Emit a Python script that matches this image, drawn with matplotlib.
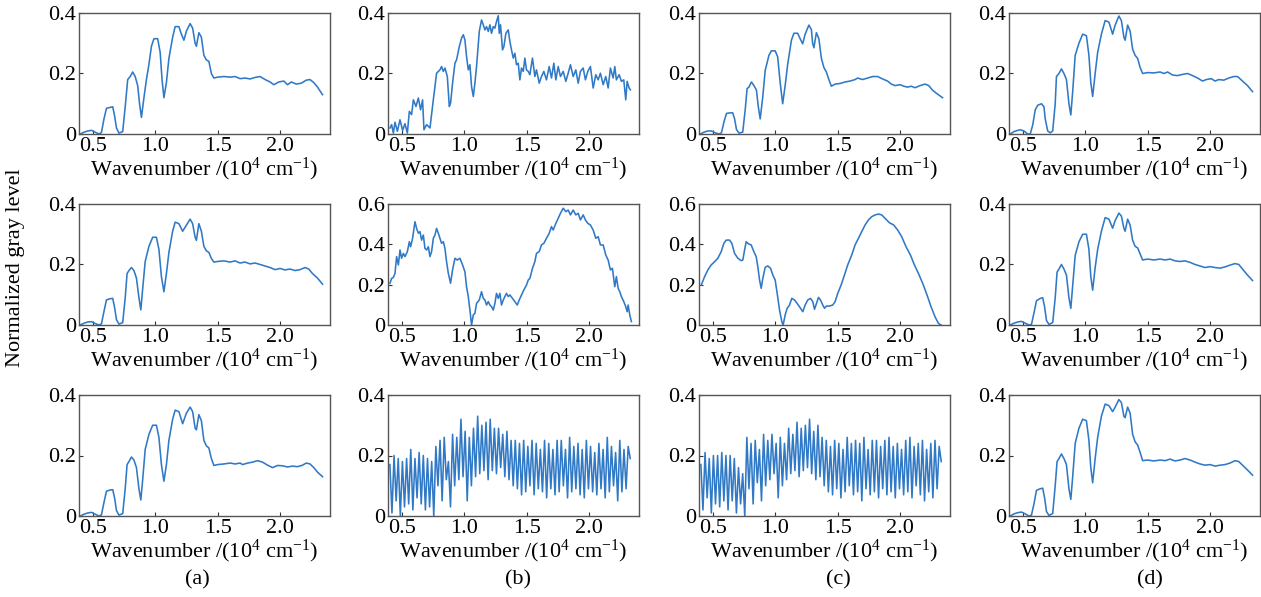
import numpy as np
import matplotlib.pyplot as plt

plt.rcParams['font.family'] = 'Liberation Serif'
plt.rcParams['mathtext.fontset'] = 'custom'
plt.rcParams['mathtext.rm'] = 'Liberation Serif'
plt.rcParams['mathtext.it'] = 'Liberation Serif:italic'

# (wavenumber /1e4 cm^-1, normalized gray level)
a1 = [(0.40,0.0),(0.43,0.006),(0.46,0.010),(0.49,0.012),(0.52,0.006),(0.55,0.0),(0.57,0.005),(0.59,0.05),
      (0.61,0.085),(0.64,0.088),(0.66,0.09),(0.675,0.06),(0.69,0.02),(0.71,0.003),(0.74,0.008),(0.76,0.09),
      (0.78,0.18),(0.80,0.19),(0.82,0.205),(0.84,0.19),(0.86,0.16),(0.875,0.10),(0.89,0.055),(0.91,0.12),
      (0.93,0.18),(0.95,0.23),(0.97,0.29),(0.99,0.315),(1.02,0.315),(1.04,0.27),(1.055,0.18),(1.07,0.12),
      (1.09,0.17),(1.11,0.25),(1.14,0.32),(1.16,0.355),(1.19,0.355),(1.21,0.33),(1.23,0.31),(1.25,0.34),
      (1.28,0.365),(1.30,0.35),(1.32,0.30),(1.33,0.29),(1.35,0.335),(1.37,0.32),(1.39,0.26),(1.41,0.245),
      (1.43,0.24),(1.45,0.20),(1.47,0.185),(1.50,0.188),(1.55,0.19),(1.60,0.188),(1.64,0.19),(1.68,0.183),
      (1.72,0.185),(1.76,0.182),(1.80,0.187),(1.84,0.19),(1.88,0.18),(1.92,0.172),(1.95,0.163),(1.99,0.172),
      (2.03,0.175),(2.06,0.163),(2.09,0.172),(2.13,0.165),(2.17,0.168),(2.21,0.178),(2.24,0.18),(2.27,0.17),
      (2.30,0.155),(2.34,0.13)]

a2 = [(0.40,0.0),(0.43,0.006),(0.46,0.010),(0.49,0.011),(0.52,0.005),(0.55,0.0),(0.57,0.004),(0.59,0.045),
      (0.61,0.083),(0.64,0.087),(0.66,0.088),(0.675,0.058),(0.69,0.018),(0.71,0.003),(0.74,0.008),(0.76,0.09),
      (0.775,0.17),(0.79,0.18),(0.81,0.19),(0.83,0.18),(0.85,0.155),(0.87,0.09),(0.885,0.05),(0.90,0.12),
      (0.92,0.21),(0.95,0.26),(0.98,0.29),(1.01,0.29),(1.03,0.25),(1.05,0.16),(1.07,0.11),(1.09,0.17),
      (1.11,0.24),(1.14,0.31),(1.16,0.34),(1.19,0.335),(1.22,0.31),(1.25,0.33),(1.28,0.35),(1.30,0.335),
      (1.32,0.29),(1.33,0.28),(1.35,0.335),(1.37,0.31),(1.39,0.26),(1.41,0.245),(1.43,0.24),(1.45,0.22),
      (1.47,0.208),(1.50,0.21),(1.55,0.212),(1.60,0.208),(1.64,0.212),(1.68,0.205),(1.72,0.208),(1.76,0.202),
      (1.80,0.205),(1.84,0.2),(1.88,0.195),(1.92,0.19),(1.96,0.183),(2.00,0.187),(2.04,0.182),(2.08,0.185),
      (2.12,0.18),(2.16,0.183),(2.20,0.19),(2.23,0.185),(2.26,0.17),(2.30,0.155),(2.34,0.135)]

a3 = [(0.40,0.0),(0.43,0.006),(0.46,0.010),(0.49,0.012),(0.52,0.006),(0.55,0.0),(0.57,0.004),(0.59,0.045),
      (0.61,0.082),(0.64,0.086),(0.66,0.087),(0.675,0.06),(0.69,0.018),(0.71,0.003),(0.74,0.008),(0.76,0.09),
      (0.775,0.17),(0.79,0.18),(0.81,0.195),(0.83,0.185),(0.85,0.16),(0.87,0.09),(0.885,0.053),(0.90,0.12),
      (0.92,0.22),(0.95,0.27),(0.98,0.30),(1.01,0.30),(1.03,0.26),(1.05,0.17),(1.07,0.115),(1.09,0.17),
      (1.11,0.25),(1.14,0.32),(1.16,0.35),(1.19,0.345),(1.22,0.305),(1.25,0.34),(1.28,0.36),(1.30,0.345),
      (1.32,0.29),(1.33,0.285),(1.35,0.335),(1.37,0.315),(1.39,0.25),(1.41,0.232),(1.43,0.225),(1.45,0.19),
      (1.47,0.167),(1.50,0.17),(1.55,0.172),(1.60,0.175),(1.64,0.172),(1.68,0.175),(1.70,0.17),(1.74,0.175),
      (1.78,0.178),(1.82,0.183),(1.86,0.178),(1.90,0.168),(1.94,0.16),(1.98,0.167),(2.02,0.166),(2.06,0.162),
      (2.10,0.165),(2.14,0.163),(2.18,0.168),(2.21,0.175),(2.24,0.172),(2.27,0.16),(2.30,0.145),(2.34,0.13)]

b1 = [(0.406,0.020),(0.419,0.031),(0.433,0.003),(0.446,0.039),(0.465,0.009),(0.486,0.047),(0.507,0.012),
      (0.526,0.034),(0.545,0.003),(0.561,0.075),(0.579,0.064),(0.593,0.113),(0.614,0.091),(0.633,0.119),
      (0.651,0.080),(0.667,0.113),(0.678,0.014),(0.699,0.031),(0.726,0.020),(0.753,0.113),(0.779,0.201),
      (0.806,0.212),(0.819,0.223),(0.833,0.207),(0.846,0.218),(0.865,0.190),(0.881,0.091),(0.891,0.102),
      (0.907,0.168),(0.926,0.234),(0.939,0.245),(0.961,0.289),(0.979,0.317),(0.993,0.328),(1.006,0.311),
      (1.019,0.256),(1.033,0.212),(1.046,0.229),(1.059,0.157),(1.073,0.124),(1.086,0.168),(1.099,0.223),
      (1.121,0.339),(1.139,0.377),(1.153,0.361),(1.166,0.344),(1.179,0.355),(1.193,0.339),(1.206,0.361),
      (1.219,0.333),(1.233,0.355),(1.246,0.350),(1.259,0.372),(1.273,0.391),(1.281,0.333),(1.291,0.361),
      (1.307,0.278),(1.318,0.289),(1.334,0.333),(1.353,0.344),(1.366,0.306),(1.379,0.278),(1.393,0.251),
      (1.406,0.267),(1.419,0.229),(1.433,0.234),(1.446,0.179),(1.459,0.218),(1.473,0.207),(1.486,0.251),
      (1.499,0.212),(1.513,0.207),(1.526,0.196),(1.547,0.251),(1.566,0.190),(1.579,0.212),(1.601,0.168),
      (1.619,0.190),(1.638,0.207),(1.659,0.179),(1.681,0.223),(1.699,0.185),(1.718,0.234),(1.734,0.179),
      (1.753,0.223),(1.771,0.190),(1.793,0.207),(1.814,0.174),(1.833,0.201),(1.851,0.229),(1.873,0.190),
      (1.894,0.212),(1.913,0.168),(1.931,0.207),(1.953,0.218),(1.971,0.179),(1.990,0.207),(2.011,0.223),
      (2.033,0.152),(2.054,0.196),(2.073,0.179),(2.091,0.201),(2.113,0.163),(2.134,0.190),(2.153,0.152),
      (2.171,0.218),(2.193,0.185),(2.206,0.223),(2.219,0.179),(2.241,0.196),(2.259,0.174),(2.278,0.179),
      (2.294,0.113),(2.305,0.174),(2.321,0.152),(2.331,0.146)]

b2 = [(0.406,0.207),(0.419,0.231),(0.433,0.236),(0.446,0.256),(0.459,0.339),(0.473,0.298),(0.486,0.372),
      (0.499,0.331),(0.513,0.355),(0.526,0.339),(0.545,0.364),(0.561,0.413),(0.571,0.388),(0.587,0.430),
      (0.606,0.512),(0.619,0.479),(0.633,0.455),(0.646,0.463),(0.659,0.421),(0.673,0.446),(0.686,0.380),
      (0.699,0.372),(0.713,0.388),(0.726,0.339),(0.739,0.364),(0.753,0.430),(0.766,0.446),(0.779,0.479),
      (0.793,0.455),(0.806,0.430),(0.819,0.405),(0.833,0.413),(0.846,0.380),(0.859,0.314),(0.873,0.256),
      (0.891,0.207),(0.907,0.273),(0.926,0.331),(0.945,0.322),(0.966,0.331),(0.987,0.298),(1.006,0.264),
      (1.019,0.190),(1.033,0.141),(1.046,0.074),(1.059,0.000),(1.073,0.050),(1.086,0.058),(1.099,0.107),
      (1.121,0.124),(1.139,0.165),(1.153,0.132),(1.166,0.124),(1.179,0.099),(1.193,0.116),(1.206,0.099),
      (1.219,0.091),(1.233,0.074),(1.246,0.107),(1.259,0.157),(1.273,0.132),(1.286,0.157),(1.299,0.099),
      (1.313,0.124),(1.326,0.141),(1.339,0.157),(1.353,0.141),(1.366,0.149),(1.387,0.132),(1.406,0.116),
      (1.425,0.099),(1.441,0.124),(1.459,0.149),(1.478,0.174),(1.499,0.198),(1.513,0.223),(1.526,0.231),
      (1.547,0.281),(1.566,0.314),(1.579,0.355),(1.601,0.364),(1.619,0.397),(1.638,0.405),(1.659,0.430),
      (1.681,0.455),(1.699,0.488),(1.713,0.471),(1.734,0.504),(1.753,0.529),(1.771,0.554),(1.793,0.579),
      (1.814,0.562),(1.833,0.570),(1.851,0.546),(1.873,0.570),(1.894,0.546),(1.913,0.554),(1.931,0.521),
      (1.953,0.546),(1.971,0.521),(1.990,0.504),(2.011,0.496),(2.033,0.471),(2.054,0.430),(2.073,0.438),
      (2.091,0.397),(2.113,0.397),(2.134,0.347),(2.153,0.322),(2.171,0.273),(2.187,0.281),(2.206,0.190),
      (2.219,0.240),(2.233,0.182),(2.246,0.165),(2.259,0.141),(2.278,0.116),(2.294,0.091),(2.305,0.066),
      (2.313,0.099),(2.326,0.050),(2.339,0.017)]

# fringe-modulated spectra: successive maxima and minima, evenly spaced from 0.405 to 2.33
b3_peaks = [0.17, 0.20, 0.19, 0.18, 0.19, 0.22, 0.19, 0.21, 0.20, 0.19, 0.18,
            0.23, 0.25, 0.26, 0.18, 0.27, 0.26, 0.32,
            0.28, 0.26, 0.29, 0.33, 0.30, 0.31, 0.32, 0.29, 0.29, 0.27, 0.28, 0.25,
            0.25, 0.24, 0.25, 0.23, 0.25, 0.24, 0.22, 0.25, 0.24, 0.22, 0.25, 0.25, 0.22, 0.26,
            0.23, 0.24, 0.22, 0.25, 0.23, 0.21, 0.24, 0.22, 0.26, 0.23, 0.21, 0.25, 0.22, 0.23]
b3_troughs = [0.01, 0.05, 0.00, 0.03, 0.04, 0.02, 0.06, 0.04, 0.02, 0.03, 0.00,
              0.10, 0.05, 0.12, 0.03, 0.10, 0.12, 0.13,
              0.05, 0.10, 0.13, 0.14, 0.15, 0.12, 0.15, 0.14, 0.16, 0.13, 0.12, 0.10,
              0.09, 0.07, 0.08, 0.10, 0.07, 0.09, 0.08, 0.06, 0.09, 0.07, 0.08, 0.10, 0.06, 0.08,
              0.09, 0.07, 0.06, 0.09, 0.08, 0.07, 0.09, 0.06, 0.08, 0.10, 0.05, 0.08, 0.09, 0.19]

c3_peaks = [0.17, 0.21, 0.19, 0.20, 0.20, 0.21, 0.20, 0.20, 0.19, 0.16, 0.14,
            0.26, 0.24, 0.25, 0.22, 0.27, 0.25, 0.27,
            0.24, 0.26, 0.24, 0.29, 0.27, 0.31, 0.29, 0.30, 0.32, 0.28, 0.30, 0.26,
            0.25, 0.23, 0.25, 0.24, 0.22, 0.26, 0.24, 0.25, 0.24, 0.26, 0.22, 0.25, 0.25, 0.23,
            0.25, 0.26, 0.23, 0.24, 0.22, 0.25, 0.26, 0.23, 0.24, 0.25, 0.22, 0.24, 0.25, 0.23]
c3_troughs = [0.02, 0.06, 0.01, 0.04, 0.03, 0.05, 0.02, 0.05, 0.01, 0.04, 0.00,
              0.09, 0.04, 0.11, 0.05, 0.10, 0.12, 0.14,
              0.06, 0.10, 0.12, 0.14, 0.15, 0.13, 0.15, 0.16, 0.14, 0.12, 0.13, 0.10,
              0.08, 0.07, 0.09, 0.06, 0.08, 0.10, 0.07, 0.08, 0.05, 0.09, 0.07, 0.08, 0.06, 0.09,
              0.07, 0.08, 0.06, 0.09, 0.07, 0.08, 0.06, 0.10, 0.07, 0.05, 0.08, 0.06, 0.09, 0.18]

c1 = [(0.40,0.0),(0.43,0.006),(0.46,0.010),(0.49,0.010),(0.52,0.004),(0.55,0.0),(0.57,0.004),(0.59,0.04),
      (0.61,0.068),(0.64,0.07),(0.66,0.07),(0.675,0.05),(0.69,0.015),(0.71,0.003),(0.74,0.006),(0.76,0.08),
      (0.775,0.15),(0.79,0.155),(0.81,0.172),(0.83,0.16),(0.85,0.145),(0.865,0.09),(0.88,0.05),(0.90,0.12),
      (0.92,0.21),(0.95,0.26),(0.97,0.275),(1.00,0.275),(1.02,0.255),(1.04,0.17),(1.06,0.10),(1.08,0.16),
      (1.10,0.23),(1.13,0.31),(1.15,0.333),(1.18,0.333),(1.20,0.315),(1.22,0.298),(1.24,0.33),(1.27,0.36),
      (1.29,0.345),(1.30,0.30),(1.31,0.285),(1.33,0.335),(1.35,0.315),(1.37,0.25),(1.39,0.22),(1.41,0.205),
      (1.43,0.18),(1.45,0.158),(1.48,0.165),(1.52,0.167),(1.56,0.172),(1.60,0.175),(1.64,0.18),(1.66,0.185),
      (1.70,0.18),(1.74,0.185),(1.78,0.19),(1.82,0.19),(1.86,0.182),(1.90,0.175),(1.93,0.165),(1.96,0.16),
      (2.00,0.163),(2.03,0.158),(2.06,0.155),(2.09,0.158),(2.12,0.153),(2.16,0.16),(2.20,0.165),(2.23,0.16),
      (2.26,0.145),(2.29,0.135),(2.34,0.12)]

c2 = [(0.408,0.198),(0.435,0.240),(0.461,0.273),(0.488,0.298),(0.515,0.314),(0.541,0.331),(0.568,0.364),
      (0.589,0.405),(0.608,0.421),(0.635,0.421),(0.653,0.405),(0.675,0.355),(0.701,0.331),(0.728,0.319),
      (0.741,0.322),(0.755,0.372),(0.768,0.413),(0.787,0.402),(0.808,0.397),(0.829,0.364),(0.848,0.339),
      (0.861,0.289),(0.875,0.223),(0.888,0.182),(0.901,0.231),(0.920,0.286),(0.941,0.293),(0.963,0.281),
      (0.981,0.248),(1.000,0.223),(1.016,0.157),(1.035,0.074),(1.053,0.017),(1.064,0.000),(1.080,0.050),
      (1.096,0.083),(1.115,0.099),(1.133,0.132),(1.155,0.124),(1.176,0.107),(1.203,0.083),(1.221,0.066),
      (1.240,0.099),(1.261,0.124),(1.283,0.132),(1.301,0.116),(1.315,0.078),(1.331,0.107),(1.347,0.137),
      (1.363,0.124),(1.381,0.099),(1.395,0.083),(1.411,0.094),(1.435,0.094),(1.461,0.099),(1.480,0.116),
      (1.501,0.157),(1.528,0.198),(1.555,0.248),(1.581,0.298),(1.613,0.347),(1.640,0.397),(1.667,0.430),
      (1.693,0.463),(1.720,0.496),(1.747,0.521),(1.773,0.537),(1.800,0.546),(1.827,0.550),(1.853,0.546),
      (1.880,0.529),(1.915,0.507),(1.949,0.496),(1.981,0.471),(2.013,0.438),(2.048,0.388),(2.083,0.347),
      (2.115,0.298),(2.147,0.256),(2.181,0.207),(2.216,0.149),(2.248,0.091),(2.280,0.041),(2.307,0.008),
      (2.328,0.000)]

d1 = [(0.40,0.0),(0.43,0.008),(0.46,0.012),(0.48,0.014),(0.51,0.01),(0.54,0.0),(0.56,0.0),(0.58,0.03),
      (0.60,0.08),(0.62,0.095),(0.65,0.10),(0.67,0.09),(0.68,0.05),(0.70,0.01),(0.72,0.004),(0.74,0.01),
      (0.76,0.10),(0.77,0.19),(0.79,0.20),(0.81,0.215),(0.83,0.20),(0.85,0.18),(0.87,0.10),(0.885,0.063),
      (0.90,0.14),(0.92,0.26),(0.95,0.30),(0.98,0.33),(1.01,0.325),(1.03,0.26),(1.045,0.17),(1.06,0.124),
      (1.08,0.20),(1.10,0.27),(1.13,0.33),(1.16,0.375),(1.19,0.37),(1.22,0.33),(1.24,0.36),(1.27,0.39),
      (1.29,0.375),(1.31,0.32),(1.32,0.31),(1.34,0.36),(1.36,0.34),(1.38,0.28),(1.40,0.26),(1.42,0.25),
      (1.44,0.22),(1.46,0.20),(1.50,0.203),(1.55,0.202),(1.60,0.205),(1.63,0.20),(1.66,0.205),(1.70,0.195),
      (1.74,0.193),(1.78,0.197),(1.82,0.20),(1.86,0.193),(1.90,0.185),(1.94,0.175),(1.97,0.18),(2.01,0.183),
      (2.04,0.175),(2.07,0.18),(2.11,0.178),(2.15,0.185),(2.19,0.19),(2.22,0.19),(2.26,0.175),(2.30,0.16),
      (2.34,0.14)]

d2 = [(0.40,0.0),(0.43,0.006),(0.46,0.010),(0.49,0.012),(0.52,0.006),(0.55,0.0),(0.57,0.002),(0.59,0.04),
      (0.61,0.08),(0.64,0.088),(0.66,0.09),(0.675,0.06),(0.69,0.015),(0.71,0.002),(0.74,0.008),(0.76,0.09),
      (0.775,0.175),(0.79,0.185),(0.81,0.20),(0.83,0.185),(0.85,0.165),(0.87,0.09),(0.885,0.055),(0.90,0.13),
      (0.92,0.23),(0.95,0.275),(0.98,0.30),(1.01,0.30),(1.03,0.25),(1.045,0.16),(1.06,0.115),(1.08,0.19),
      (1.10,0.25),(1.13,0.31),(1.16,0.355),(1.19,0.35),(1.22,0.32),(1.24,0.345),(1.27,0.37),(1.29,0.36),
      (1.31,0.32),(1.32,0.31),(1.34,0.35),(1.36,0.33),(1.38,0.28),(1.40,0.26),(1.42,0.255),(1.44,0.235),
      (1.46,0.215),(1.50,0.218),(1.55,0.215),(1.60,0.218),(1.64,0.215),(1.68,0.218),(1.72,0.212),(1.76,0.21),
      (1.80,0.212),(1.84,0.207),(1.88,0.20),(1.92,0.195),(1.96,0.19),(2.00,0.193),(2.04,0.19),(2.08,0.188),
      (2.12,0.192),(2.16,0.198),(2.20,0.203),(2.23,0.20),(2.26,0.185),(2.30,0.165),(2.34,0.147)]

d3 = [(0.40,0.0),(0.43,0.007),(0.46,0.011),(0.49,0.013),(0.52,0.007),(0.55,0.0),(0.57,0.003),(0.59,0.04),
      (0.61,0.085),(0.64,0.09),(0.66,0.092),(0.675,0.06),(0.69,0.015),(0.71,0.002),(0.74,0.008),(0.76,0.10),
      (0.775,0.18),(0.79,0.19),(0.81,0.205),(0.83,0.19),(0.85,0.17),(0.87,0.09),(0.885,0.055),(0.90,0.13),
      (0.92,0.24),(0.95,0.29),(0.98,0.32),(1.01,0.315),(1.03,0.25),(1.045,0.16),(1.06,0.11),(1.08,0.19),
      (1.10,0.26),(1.13,0.33),(1.16,0.37),(1.19,0.365),(1.22,0.345),(1.24,0.36),(1.27,0.385),(1.29,0.375),
      (1.31,0.33),(1.32,0.325),(1.34,0.36),(1.36,0.34),(1.38,0.27),(1.40,0.245),(1.42,0.235),(1.44,0.21),
      (1.46,0.183),(1.50,0.185),(1.55,0.182),(1.60,0.185),(1.64,0.183),(1.68,0.188),(1.72,0.182),(1.76,0.185),
      (1.80,0.19),(1.84,0.185),(1.88,0.178),(1.92,0.172),(1.96,0.168),(2.00,0.17),(2.04,0.165),(2.08,0.168),
      (2.12,0.17),(2.16,0.175),(2.20,0.183),(2.23,0.18),(2.26,0.168),(2.30,0.152),(2.34,0.135)]

xticks = [0.5, 1.0, 1.5, 2.0]
xtick_labels = ['0.5', '1.0', '1.5', '2.0']
panel_labels = ['(a)', '(b)', '(c)', '(d)']

blue = '#3079c6'
W, H = 1261, 597
fig = plt.figure(figsize=(W / 100, H / 100), dpi=100)

lefts = [79, 388, 699, 1009]   # px
tops = [13, 204, 395]
aw, ah = 251, 121


def fringes(peaks, troughs):
    y = np.column_stack([peaks, troughs]).ravel()
    x = np.linspace(0.405, 2.33, len(y))
    return x, y


curves = [[a1, b1, c1, d1],
          [a2, b2, c2, d2],
          [a3, fringes(b3_peaks, b3_troughs), fringes(c3_peaks, c3_troughs), d3]]
ytop = [[0.4, 0.4, 0.4, 0.4], [0.4, 0.6, 0.6, 0.4], [0.4, 0.4, 0.4, 0.4]]

for r in range(3):
    for c in range(4):
        ax = fig.add_axes([lefts[c] / W, 1 - (tops[r] + ah) / H, aw / W, ah / H])
        data = curves[r][c]
        if isinstance(data, tuple):
            x, y = data
        else:
            x, y = np.array(data).T
        ax.plot(x, y, color=blue, lw=1.15)
        ax.set_xlim(0.39, 2.40)
        ax.set_ylim(0, ytop[r][c])
        ax.set_xticks(xticks)
        ax.set_xticklabels(xtick_labels)
        if ytop[r][c] == 0.6:
            ax.set_yticks([0, 0.2, 0.4, 0.6])
            ax.set_yticklabels(['0', '0.2', '0.4', '0.6'])
        else:
            ax.set_yticks([0, 0.2, 0.4])
            ax.set_yticklabels(['0', '0.2', '0.4'])
        ax.tick_params(direction='in', length=3, width=0.8, labelsize=16, pad=2, color='#333333')
        for s in ax.spines.values():
            s.set_color('#555555')
            s.set_linewidth(1.0)
        ax.set_xlabel(r'Wavenumber /(10$^4$ cm$^{-1}$)', fontsize=16, labelpad=0)

fig.text(16 / W, 1 - 268 / H, 'Normalized gray level', rotation=90, ha='center', va='center', fontsize=16)
for c, lab in enumerate(panel_labels):
    fig.text([197, 518, 838, 1150][c] / W, 1 - 580 / H, lab, ha='center', va='center', fontsize=16)

fig.savefig('out.png', dpi=100)
